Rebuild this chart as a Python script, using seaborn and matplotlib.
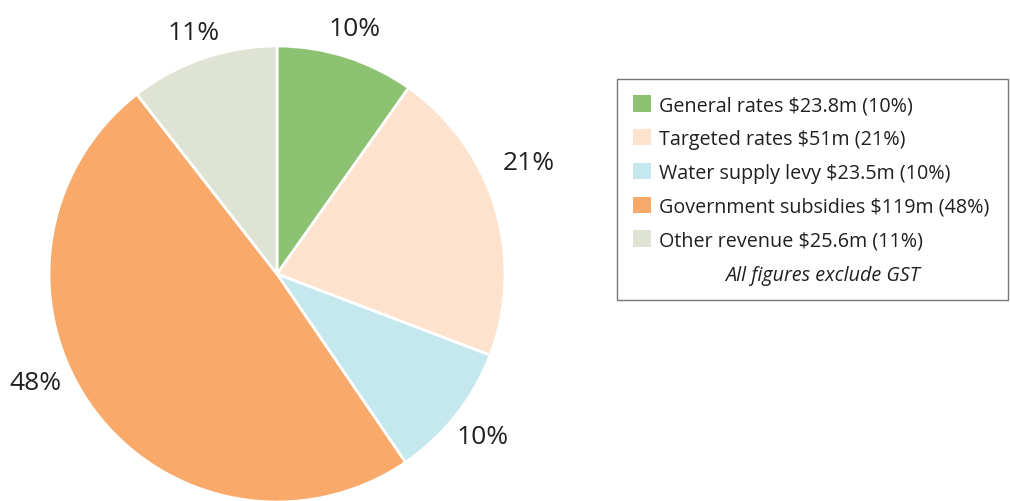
import matplotlib
matplotlib.use("Agg")
import matplotlib.pyplot as plt
from matplotlib.patches import Patch
import numpy as np
import seaborn as sns

# revenue sources (NZ$ million)
sources = ["General rates", "Targeted rates", "Water supply levy",
           "Government subsidies", "Other revenue"]
amounts = [23.8, 51, 23.5, 119, 25.6]
amount_text = ["$23.8m", "$51m", "$23.5m", "$119m", "$25.6m"]
pct_labels = ["10%", "21%", "10%", "48%", "11%"]
colours = ["#8CC272", "#FDE3CE", "#C5E7EE", "#F9AA6A", "#DFE3D3"]

# label placement tweaks (angle nudge in degrees, radius factor)
lab_nudge = [0, 7, 0, -12, 0]
lab_rad = [1.13, 1.21, 1.15, 1.16, 1.12]

sns.set_theme(style="white")
plt.rcParams["font.family"] = ["Open Sans", "DejaVu Sans"]
text_col = "#231F20"

fig = plt.figure(figsize=(10.1, 5.02), dpi=100)
ax = fig.add_axes([49 / 1010, -1 / 502, 456 / 1010, 456 / 502])

pal = sns.color_palette(colours)
wedges, _ = ax.pie(amounts, colors=pal, startangle=90, counterclock=False,
                   wedgeprops=dict(edgecolor="white", linewidth=2))
for w, lab, dn, r in zip(wedges, pct_labels, lab_nudge, lab_rad):
    mid = np.deg2rad((w.theta1 + w.theta2) / 2 + dn)
    ax.text(r * np.cos(mid), r * np.sin(mid), lab, ha="center", va="center",
            fontsize=19, color=text_col, clip_on=False)
ax.set_xlim(-1, 1)
ax.set_ylim(-1, 1)
ax.set_aspect("equal")

leg_labels = [f"{s} {a} ({p})" for s, a, p in zip(sources, amount_text, pct_labels)]
handles = [Patch(facecolor=c, edgecolor="none") for c in colours]
handles.append(Patch(visible=False))
leg_labels.append(" ")
leg = fig.legend(handles, leg_labels, loc="upper left", mode="expand",
                 bbox_to_anchor=(617 / 1010, 1 - 80 / 502 - 0.01, 391 / 1010, 0.01),
                 fontsize=14.2, frameon=True, fancybox=False,
                 handlelength=0.9, handleheight=0.9, handletextpad=0.4,
                 labelspacing=0.7, borderpad=0.82, borderaxespad=0)
for t in leg.get_texts():
    t.set_color(text_col)
frame = leg.get_frame()
frame.set_edgecolor("#555555")
frame.set_linewidth(1.0)
frame.set_boxstyle("square", pad=0)

fig.text(822 / 1010, 1 - 276 / 502, "All figures exclude GST", ha="center",
         va="center", fontsize=14.2, style="italic", color=text_col, zorder=10)

fig.savefig("out.png", dpi=100, facecolor="white")
